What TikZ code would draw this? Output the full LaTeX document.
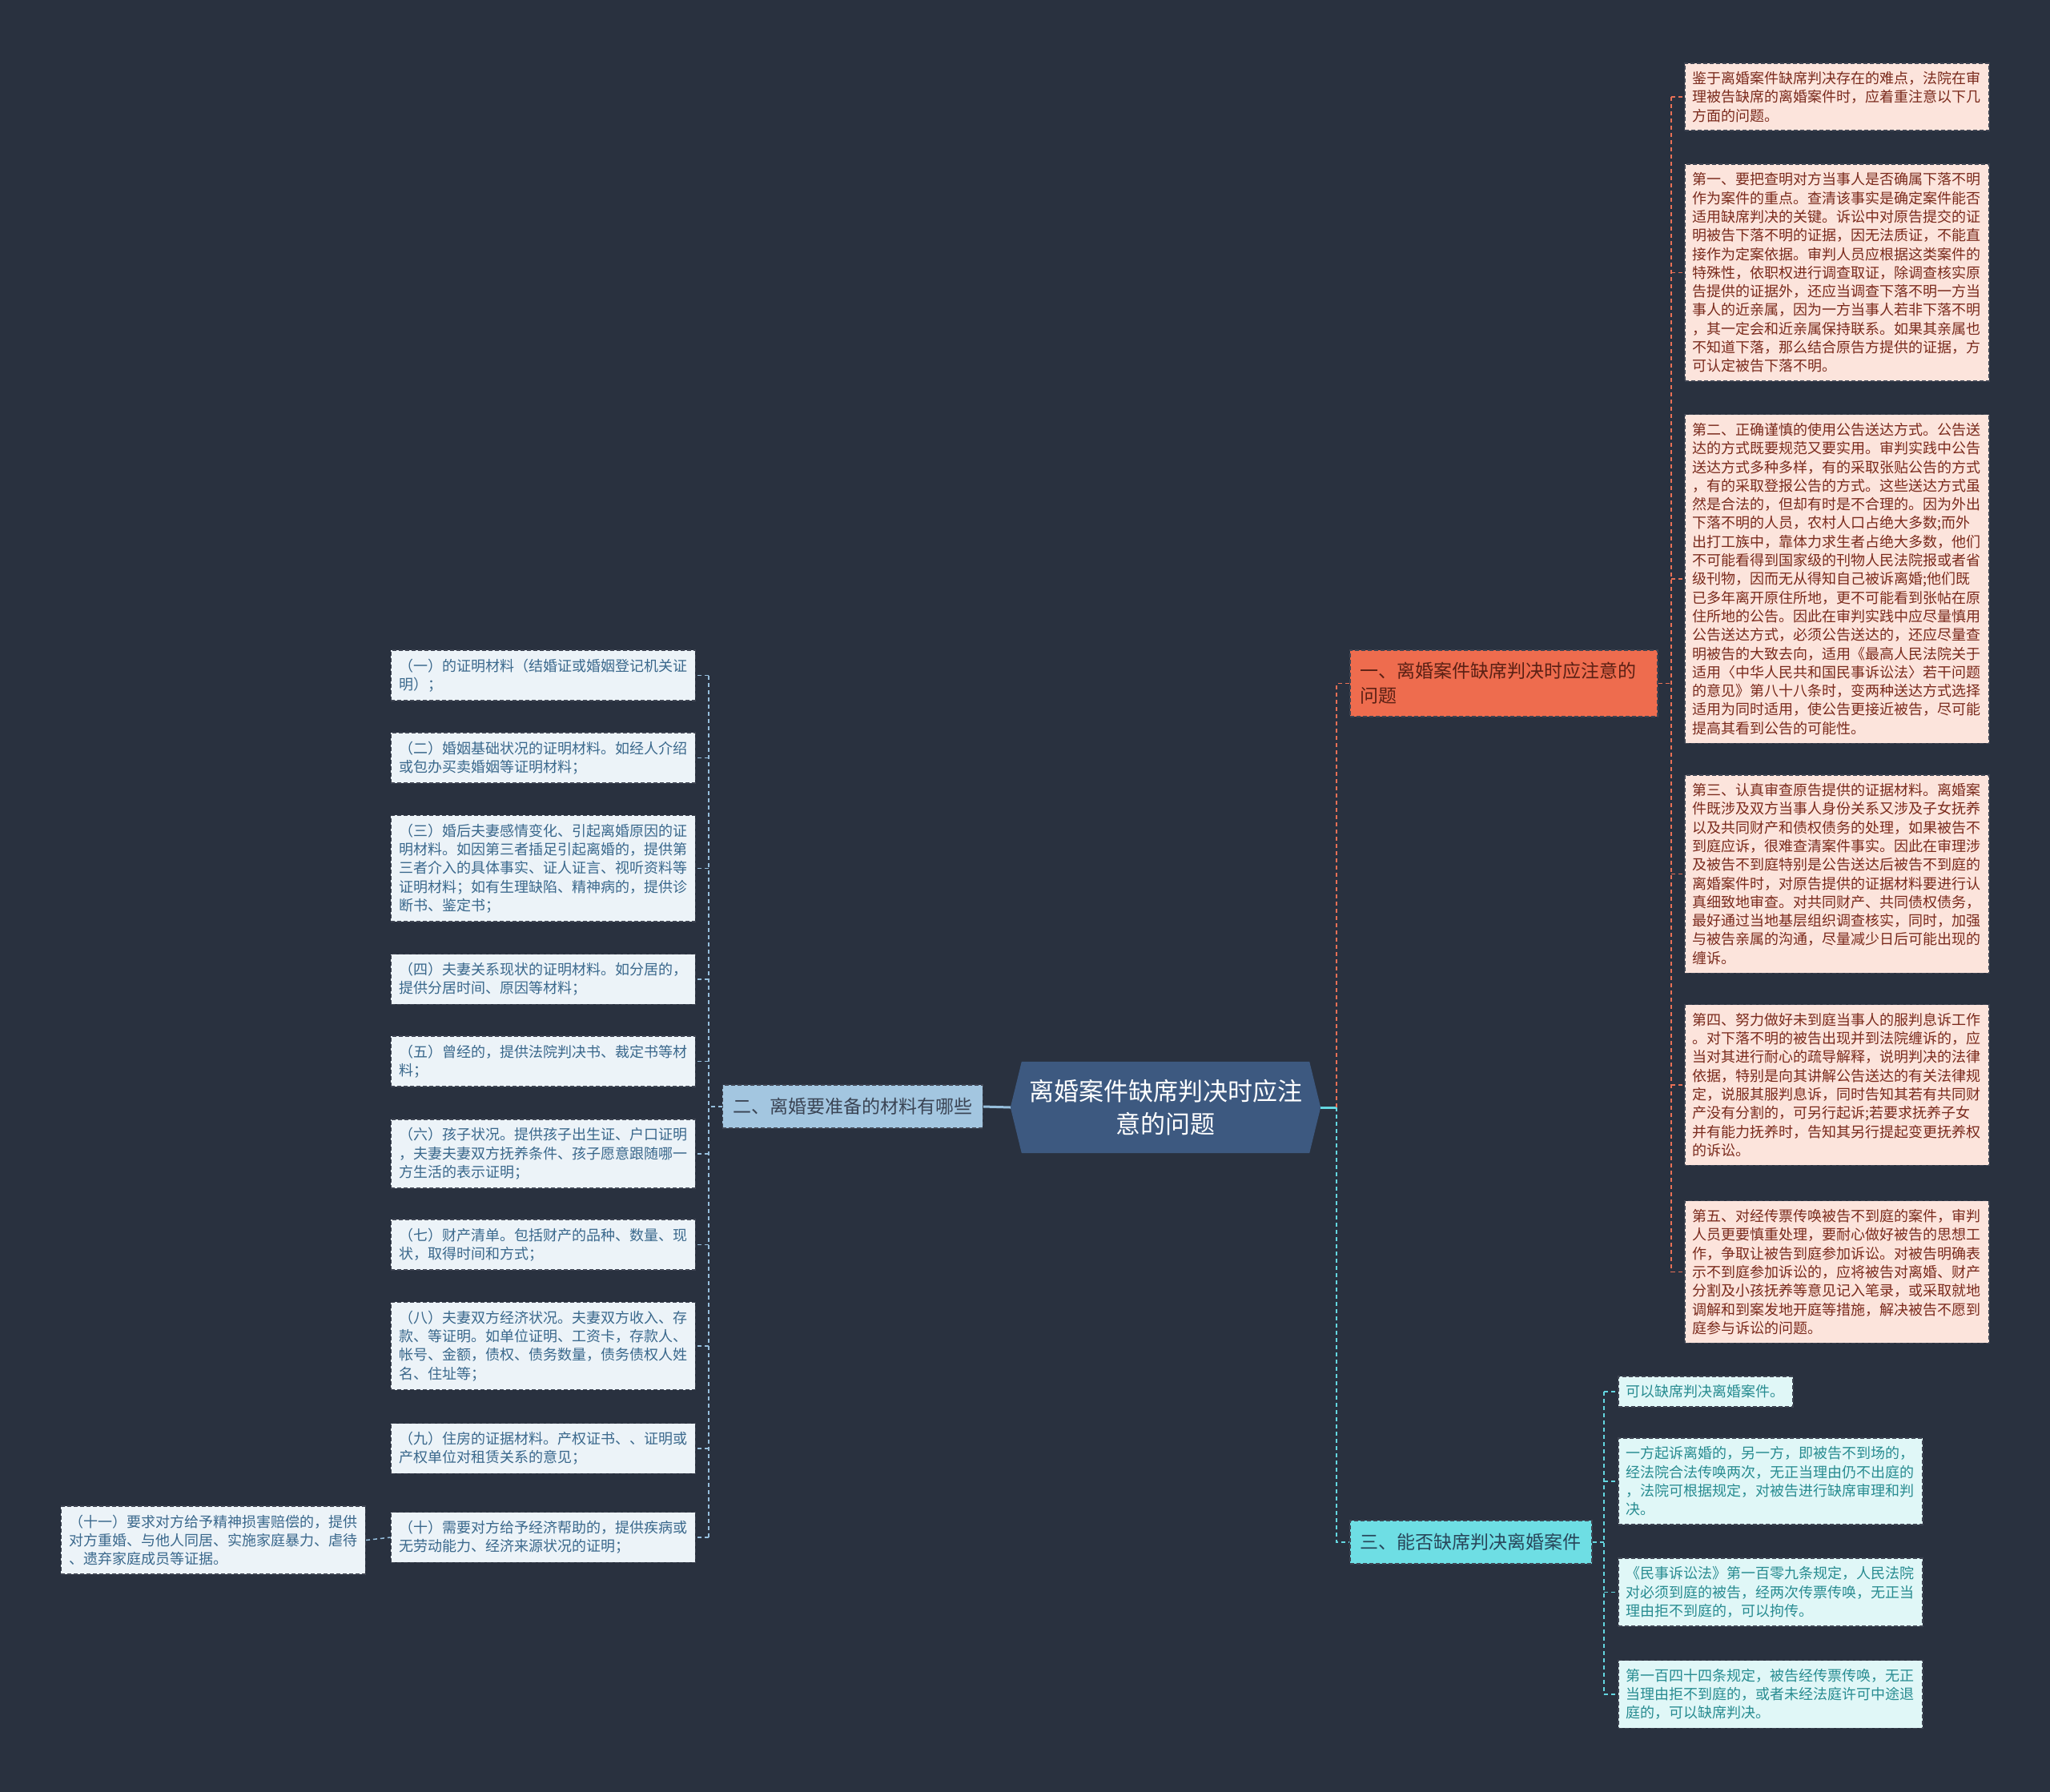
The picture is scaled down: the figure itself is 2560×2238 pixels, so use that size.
\documentclass[tikz,border=0pt]{standalone}
\usepackage{fontspec}
\setmainfont{Noto Sans CJK SC}
\usetikzlibrary{calc}
\definecolor{bgc}{RGB}{41,49,63}
\definecolor{centerfill}{RGB}{61,89,128}
\definecolor{orfill}{RGB}{238,108,78}
\definecolor{ortext}{RGB}{90,32,20}
\definecolor{pinkfill}{RGB}{252,228,220}
\definecolor{pinktext}{RGB}{122,42,28}
\definecolor{b2fill}{RGB}{163,198,224}
\definecolor{b2text}{RGB}{58,68,84}
\definecolor{lbfill}{RGB}{236,243,248}
\definecolor{lbtext}{RGB}{58,104,140}
\definecolor{b3fill}{RGB}{110,222,228}
\definecolor{b3text}{RGB}{40,70,90}
\definecolor{cyfill}{RGB}{224,247,247}
\definecolor{cytext}{RGB}{40,140,145}
\definecolor{orline}{RGB}{232,112,86}
\definecolor{cyline}{RGB}{100,215,225}
\definecolor{blline}{RGB}{150,190,220}
\definecolor{edgec}{RGB}{62,68,82}
\pgfdeclarelayer{bglayer}
\pgfsetlayers{bglayer,main}
\tikzset{
  boxedge/.style={draw=edgec, line width=1.5pt, dash pattern=on 5pt off 3pt},
  leafbox/.style={boxedge, inner xsep=10pt, inner ysep=10.5pt, text width=360pt, align=left,
    font=\fontsize{18}{23.3}\selectfont},
  pinkleaf/.style={leafbox, fill=pinkfill, text=pinktext, anchor=west},
  blueleaf/.style={leafbox, fill=lbfill, text=lbtext},
  cyanleaf/.style={leafbox, fill=cyfill, text=cytext, anchor=west},
  brbox/.style={boxedge, inner xsep=13pt, inner ysep=11pt, align=left, minimum height=54pt,
    font=\fontsize{23}{31}\selectfont},
  dline/.style={line width=1.5pt, dash pattern=on 5pt off 4pt},
  sline/.style={line width=3pt},
}
\begin{document}
\begin{tikzpicture}[x=1pt,y=-1pt]
\begin{pgfonlayer}{bglayer}
\fill[bgc] (0,0) rectangle (2560,2238);
\end{pgfonlayer}
\useasboundingbox (0,0) rectangle (2560,2238);

% center
\node[minimum width=387pt, minimum height=114pt, inner sep=0pt, text=white, align=center,
  font=\fontsize{31}{41}\selectfont] (c) at (1455.5,1383) {离婚案件缺席判决时应注\\意的问题};
\begin{pgfonlayer}{bglayer}
\fill[centerfill] (c.west) -- ($(c.north west)+(14,0)$) -- ($(c.north east)+(-14,0)$) -- (c.east)
  -- ($(c.south east)+(-14,0)$) -- ($(c.south west)+(14,0)$) -- cycle;
\end{pgfonlayer}

% branches
\node[brbox, fill=orfill, text=ortext, text width=358pt, inner ysep=15.5pt, anchor=west] (b1) at (1685,853.5)
  {一、离婚案件缺席判决时应注意的\\问题};
\node[brbox, fill=b2fill, text=b2text, anchor=east] (b2) at (1228,1382) {二、离婚要准备的材料有哪些};
\node[brbox, fill=b3fill, text=b3text, anchor=west] (b3) at (1685,1926) {三、能否缺席判决离婚案件};

% right leaves
\node[pinkleaf] (p1) at (2103,121) {鉴于离婚案件缺席判决存在的难点，法院在审\\理被告缺席的离婚案件时，应着重注意以下几\\方面的问题。};
\node[pinkleaf] (p2) at (2103,340.5) {第一、要把查明对方当事人是否确属下落不明\\作为案件的重点。查清该事实是确定案件能否\\适用缺席判决的关键。诉讼中对原告提交的证\\明被告下落不明的证据，因无法质证，不能直\\接作为定案依据。审判人员应根据这类案件的\\特殊性，依职权进行调查取证，除调查核实原\\告提供的证据外，还应当调查下落不明一方当\\事人的近亲属，因为一方当事人若非下落不明\\，其一定会和近亲属保持联系。如果其亲属也\\不知道下落，那么结合原告方提供的证据，方\\可认定被告下落不明。};
\node[pinkleaf] (p3) at (2103,723) {第二、正确谨慎的使用公告送达方式。公告送\\达的方式既要规范又要实用。审判实践中公告\\送达方式多种多样，有的采取张贴公告的方式\\，有的采取登报公告的方式。这些送达方式虽\\然是合法的，但却有时是不合理的。因为外出\\下落不明的人员，农村人口占绝大多数;而外\\出打工族中，靠体力求生者占绝大多数，他们\\不可能看得到国家级的刊物人民法院报或者省\\级刊物，因而无从得知自己被诉离婚;他们既\\已多年离开原住所地，更不可能看到张帖在原\\住所地的公告。因此在审判实践中应尽量慎用\\公告送达方式，必须公告送达的，还应尽量查\\明被告的大致去向，适用《最高人民法院关于\\适用〈中华人民共和国民事诉讼法〉若干问题\\的意见》第八十八条时，变两种送达方式选择\\适用为同时适用，使公告更接近被告，尽可能\\提高其看到公告的可能性。};
\node[pinkleaf] (p4) at (2103,1091.5) {第三、认真审查原告提供的证据材料。离婚案\\件既涉及双方当事人身份关系又涉及子女抚养\\以及共同财产和债权债务的处理，如果被告不\\到庭应诉，很难查清案件事实。因此在审理涉\\及被告不到庭特别是公告送达后被告不到庭的\\离婚案件时，对原告提供的证据材料要进行认\\真细致地审查。对共同财产、共同债权债务，\\最好通过当地基层组织调查核实，同时，加强\\与被告亲属的沟通，尽量减少日后可能出现的\\缠诉。};
\node[pinkleaf] (p5) at (2103,1355) {第四、努力做好未到庭当事人的服判息诉工作\\。对下落不明的被告出现并到法院缠诉的，应\\当对其进行耐心的疏导解释，说明判决的法律\\依据，特别是向其讲解公告送达的有关法律规\\定，说服其服判息诉，同时告知其若有共同财\\产没有分割的，可另行起诉;若要求抚养子女\\并有能力抚养时，告知其另行提起变更抚养权\\的诉讼。};
\node[pinkleaf] (p6) at (2103,1588.5) {第五、对经传票传唤被告不到庭的案件，审判\\人员更要慎重处理，要耐心做好被告的思想工\\作，争取让被告到庭参加诉讼。对被告明确表\\示不到庭参加诉讼的，应将被告对离婚、财产\\分割及小孩抚养等意见记入笔录，或采取就地\\调解和到案发地开庭等措施，解决被告不愿到\\庭参与诉讼的问题。};

% left leaves
\node[blueleaf, anchor=east] (q1) at (869,843.5) {（一）的证明材料（结婚证或婚姻登记机关证\\明）；};
\node[blueleaf, anchor=east] (q2) at (869,946.5) {（二）婚姻基础状况的证明材料。如经人介绍\\或包办买卖婚姻等证明材料；};
\node[blueleaf, anchor=east] (q3) at (869,1084.5) {（三）婚后夫妻感情变化、引起离婚原因的证\\明材料。如因第三者插足引起离婚的，提供第\\三者介入的具体事实、证人证言、视听资料等\\证明材料；如有生理缺陷、精神病的，提供诊\\断书、鉴定书；};
\node[blueleaf, anchor=east] (q4) at (869,1223) {（四）夫妻关系现状的证明材料。如分居的，\\提供分居时间、原因等材料；};
\node[blueleaf, anchor=east] (q5) at (869,1325.5) {（五）曾经的，提供法院判决书、裁定书等材\\料；};
\node[blueleaf, anchor=east] (q6) at (869,1441) {（六）孩子状况。提供孩子出生证、户口证明\\，夫妻夫妻双方抚养条件、孩子愿意跟随哪一\\方生活的表示证明；};
\node[blueleaf, anchor=east] (q7) at (869,1554.5) {（七）财产清单。包括财产的品种、数量、现\\状，取得时间和方式；};
\node[blueleaf, anchor=east] (q8) at (869,1681) {（八）夫妻双方经济状况。夫妻双方收入、存\\款、等证明。如单位证明、工资卡，存款人、\\帐号、金额，债权、债务数量，债务债权人姓\\名、住址等；};
\node[blueleaf, anchor=east] (q9) at (869,1809) {（九）住房的证据材料。产权证书、、证明或\\产权单位对租赁关系的意见；};
\node[blueleaf, anchor=east] (q10) at (869,1920) {（十）需要对方给予经济帮助的，提供疾病或\\无劳动能力、经济来源状况的证明；};
\node[blueleaf, anchor=east] (q11) at (457,1923.5) {（十一）要求对方给予精神损害赔偿的，提供\\对方重婚、与他人同居、实施家庭暴力、虐待\\、遗弃家庭成员等证据。};

% cyan leaves
\node[cyanleaf, text width=198pt] (s1) at (2020,1738) {可以缺席判决离婚案件。};
\node[cyanleaf] (s2) at (2020,1850) {一方起诉离婚的，另一方，即被告不到场的，\\经法院合法传唤两次，无正当理由仍不出庭的\\，法院可根据规定，对被告进行缺席审理和判\\决。};
\node[cyanleaf] (s3) at (2020,1988.5) {《民事诉讼法》第一百零九条规定，人民法院\\对必须到庭的被告，经两次传票传唤，无正当\\理由拒不到庭的，可以拘传。};
\node[cyanleaf] (s4) at (2020,2116) {第一百四十四条规定，被告经传票传唤，无正\\当理由拒不到庭的，或者未经法庭许可中途退\\庭的，可以缺席判决。};

% connectors: center
\coordinate (jc) at (1669,1383);
\draw[sline, cyline] (c.east) -- (jc);
\draw[dline, orline] (jc) |- (b1.west);
\draw[dline, cyline] (jc) |- (b3.west);
\draw[sline, blline] (c.west) -- (b2.east);

% branch 1
\coordinate (jr) at (2087,853.5);
\draw[dline, orline] (b1.east) -- (jr);
\draw[dline, orline] (jr |- p1.west) -- (jr |- p6.west);
\foreach \i in {1,...,6} \draw[dline, orline] (jr |- p\i.west) -- (p\i.west);

% branch 2
\coordinate (jl) at (885,1382);
\draw[dline, blline] (b2.west) -- (jl);
\draw[dline, blline] (jl |- q1.east) -- (jl |- q10.east);
\foreach \i in {1,...,10} \draw[dline, blline] (jl |- q\i.east) -- (q\i.east);
\draw[dline, blline] (q11.east) -- (q10.west);

% branch 3
\coordinate (jb) at (2003,1926);
\draw[dline, cyline] (b3.east) -- (jb);
\draw[dline, cyline] (jb |- s1.west) -- (jb |- s4.west);
\foreach \i in {1,...,4} \draw[dline, cyline] (jb |- s\i.west) -- (s\i.west);
\end{tikzpicture}
\end{document}
